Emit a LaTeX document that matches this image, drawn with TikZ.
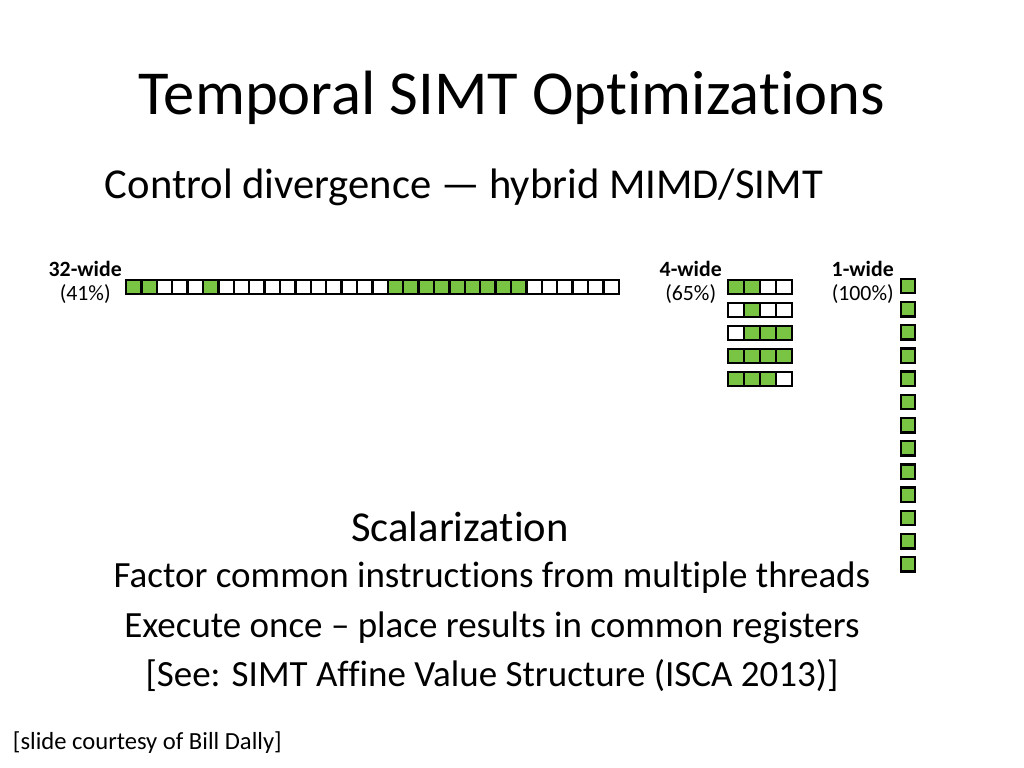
\documentclass[tikz,border=0pt]{standalone}
\usepackage{fontspec}
\setmainfont[RawFeature=-liga]{Carlito}
\usetikzlibrary{positioning}
\definecolor{lanegreen}{RGB}{122,196,68}
\tikzset{
  lane/.style={draw, line width=1.6pt, minimum size=0.36cm, inner sep=0pt, fill=white},
  on/.style={lane, fill=lanegreen},
  tag/.style={font=\fontsize{15.5}{17}\selectfont, align=center, inner sep=0pt}
}
\begin{document}
\begin{tikzpicture}[x=0.025cm, y=-0.025cm]
    \useasboundingbox (0,0) rectangle (1024,768);
    \node (title) at (512,98) {\fontsize{44.5}{50}\selectfont Temporal SIMT Optimizations};
    \node (sub) [anchor=west] at (100,187) {\fontsize{30.3}{35}\selectfont Control divergence --- hybrid MIMD/SIMT};

    % 32-wide
    \node (l32) [tag, anchor=north east] at (122,261) {\textbf{32-wide}\\(41\%)};
    \foreach \i/\s in {1/on,2/on,3/lane,4/lane,5/lane,6/on,7/lane,8/lane,9/lane,10/lane,11/lane,12/lane,13/lane,14/lane,15/lane,16/lane,17/lane,18/on,19/on,20/on,21/on,22/on,23/on,24/on,25/on,26/on,27/lane,28/lane,29/lane,30/lane,31/lane,32/lane}
        \node (a\i) [\s, minimum width=15.4*0.025cm] at (126+15.4*\i-7.7,287) {};

    % 4-wide
    \node (l4) [tag, anchor=north east] at (722,261) {\textbf{4-wide}\\(65\%)};
    \foreach \r/\row in {1/{on,on,lane,lane},2/{lane,on,lane,lane},3/{lane,on,on,on},4/{on,on,on,on},5/{on,on,on,lane}}
        \foreach \s [count=\c] in \row
            \node (b\r\c) [\s, minimum width=16*0.025cm] at (728+16*\c-8,287+23*\r-23) {};

    % 1-wide
    \node (l1) [tag, anchor=north east] at (894,261) {\textbf{1-wide}\\(100\%)};
    \foreach \r in {1,...,13}
        \node (c\r) [on] at (908,286+23.2*\r-23.2) {};

    \node (scal) at (460,527) {\fontsize{30.3}{36}\selectfont Scalarization};
    \node (f1) at (492,578) {\fontsize{26.3}{30}\selectfont Factor common instructions from multiple threads};
    \node (f2) at (492,628) {\fontsize{26.3}{30}\selectfont Execute once -- place results in common registers};
    \node (f3) at (492,676) {\fontsize{26.3}{30}\selectfont [See: SIMT Affine Value Structure (ISCA 2013)]};
    \node (foot) [anchor=west] at (8,743) {\fontsize{17.5}{20}\selectfont [slide courtesy of Bill Dally]};
\end{tikzpicture}
\end{document}
